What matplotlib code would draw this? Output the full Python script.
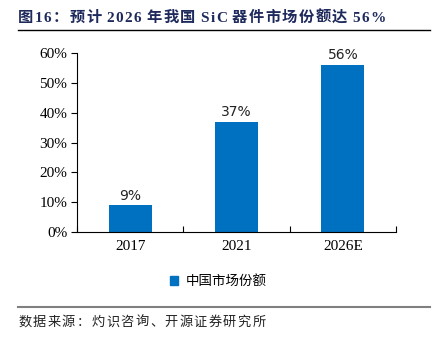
import matplotlib.pyplot as plt
from matplotlib.lines import Line2D
from matplotlib.patches import Patch

years = ['2017', '2021', '2026E']
share = [9, 37, 56]
yticks = [0, 10, 20, 30, 40, 50, 60]

title = '图16：预计 2026 年我国 SiC 器件市场份额达 56%'
series_name = '中国市场份额'
source = '数据来源：灼识咨询、开源证券研究所'

blue = '#0070C0'
serif = ['Liberation Serif', 'Noto Sans CJK SC']
cjk = ['Noto Sans CJK SC', 'DejaVu Sans']

W, H = 437, 346
fig = plt.figure(figsize=(W / 100, H / 100), dpi=100)
ax = fig.add_axes([77 / W, 1 - 232 / H, 319 / W, 179 / H])


def spaced_text(x_px, y_px, s, track, **kw):
    """Write s one glyph at a time with extra spacing (pixels) between glyphs."""
    r = fig.canvas.get_renderer()
    x = x_px
    for ch in s:
        if ch == ' ':
            x += kw.get('fontsize', 10) * 0.35
            continue
        t = fig.text(x / W, 1 - y_px / H, ch, ha='left', va='baseline', **kw)
        x += t.get_window_extent(r).width + track


x = list(range(len(years)))
ax.bar(x, share, width=0.405, color=blue, zorder=2)
for xi, v in zip(x, share):
    ax.text(xi, v + 3.2, f'{v}%', ha='center', va='center', fontsize=10,
            family='DejaVu Sans', color='#222222')

ax.set_xlim(-0.5, len(years) - 0.5)
ax.set_ylim(0, 60)
ax.set_yticks(yticks)
ax.set_yticklabels([f'{t}%' for t in yticks], family=serif, fontsize=11)
ax.set_xticks(x)
ax.set_xticklabels(years, family=serif, fontsize=11)
ax.tick_params(axis='x', length=0, pad=6)
ax.tick_params(axis='y', length=4, width=0.8, direction='out', pad=3)

# separators between categories on the x axis
ax.set_xticks([i + 0.5 for i in range(-1, len(years))], minor=True)
ax.tick_params(axis='x', which='minor', length=4, width=0.8, direction='in')

for side in ['top', 'right']:
    ax.spines[side].set_visible(False)
for side in ['left', 'bottom']:
    ax.spines[side].set_linewidth(0.8)

# legend
fig.legend(handles=[Patch(color=blue, label=series_name)], loc='center',
           bbox_to_anchor=(0.5, 1 - 281 / H), frameon=False,
           prop={'family': cjk, 'size': 9.7}, handlelength=0.6,
           handleheight=0.6, handletextpad=0.6)

# header and footer
spaced_text(18, 22, title, 1.4, family=serif, fontweight='bold',
            fontsize=11, color='#1F2A5C')
fig.add_artist(Line2D([18 / W, 430 / W], [1 - 30 / H] * 2,
                      color='black', lw=1.0))
fig.add_artist(Line2D([18 / W, 430 / W], [1 - 307 / H] * 2,
                      color='#808080', lw=1.5))
spaced_text(18, 326, source, 1.4, family=cjk, fontsize=9.5, color='#222222')

fig.savefig('out.png', dpi=100)
